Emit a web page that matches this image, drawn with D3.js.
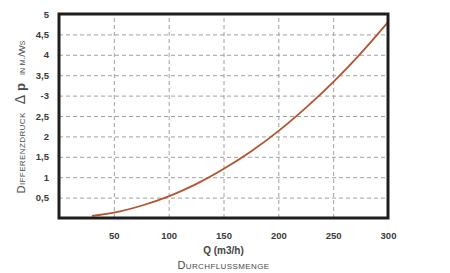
<!DOCTYPE html>
<html>
<head>
<meta charset="utf-8">
<script src="https://cdn.jsdelivr.net/npm/d3@7"></script>
<style>
  body { margin: 0; background: #fff; }
  svg { display: block; font-family: "Liberation Sans", Arial, sans-serif; }
  .grid line { stroke: #a0a0a0; stroke-width: 1; stroke-dasharray: 4 3; }
  .grid path { display: none; }
  .tick text { font-size: 9.5px; font-weight: bold; fill: #3a3a3a; }
  .axis path, .axis line { display: none; }
</style>
</head>
<body>
<svg id="chart" width="450" height="273"></svg>
<script>
// flow (m3/h) vs pressure difference (m.Ws)
const flow = [30, 50, 75, 100, 125, 150, 175, 200, 225, 250, 275, 300];
const pressure = [0.05, 0.13, 0.3, 0.53, 0.83, 1.2, 1.63, 2.13, 2.7, 3.33, 4.03, 4.8];

const xTicks = [50, 100, 150, 200, 250, 300];
const yTicks = [0.5, 1, 1.5, 2, 2.5, 3, 3.5, 4, 4.5, 5];
const yTickLabels = ["0,5", "1", "1,5", "2", "2,5", "-3", "3,5", "4", "4,5", "5"];

const plotLeft = 59, plotRight = 388, plotTop = 14, plotBottom = 218;

const svg = d3.select("#chart");

const x = d3.scaleLinear().domain([0, 300]).range([plotLeft, plotRight]);
const y = d3.scaleLinear().domain([0, 5]).range([plotBottom, plotTop]);

// dashed grid
svg.append("g")
  .attr("class", "grid")
  .attr("transform", `translate(0,${plotBottom})`)
  .call(d3.axisBottom(x).tickValues(xTicks.slice(0, -1)).tickSize(-(plotBottom - plotTop)).tickFormat(""));

svg.append("g")
  .attr("class", "grid")
  .attr("transform", `translate(${plotLeft},0)`)
  .call(d3.axisLeft(y).tickValues(yTicks.slice(0, -1)).tickSize(-(plotRight - plotLeft)).tickFormat(""));

// curve
const line = d3.line()
  .x((d, i) => x(flow[i]))
  .y(d => y(d))
  .curve(d3.curveMonotoneX);

svg.append("path")
  .datum(pressure)
  .attr("d", line)
  .attr("fill", "none")
  .attr("stroke", "#b4532f")
  .attr("stroke-width", 1.8);

// frame
svg.append("rect")
  .attr("x", plotLeft)
  .attr("y", plotTop)
  .attr("width", plotRight - plotLeft)
  .attr("height", plotBottom - plotTop)
  .attr("fill", "none")
  .attr("stroke", "#1e1e1e")
  .attr("stroke-width", 3);

// tick labels
svg.append("g")
  .attr("class", "axis")
  .attr("transform", `translate(${plotLeft - 10},0)`)
  .call(d3.axisLeft(y).tickValues(yTicks).tickSize(0).tickPadding(0)
    .tickFormat((d, i) => yTickLabels[i]));

svg.append("g")
  .attr("class", "axis")
  .attr("transform", `translate(0,${plotBottom + 14})`)
  .call(d3.axisBottom(x).tickValues(xTicks).tickSize(0).tickPadding(0));

// axis titles
svg.append("text")
  .attr("x", x(150))
  .attr("y", 254)
  .attr("text-anchor", "middle")
  .attr("font-size", 10)
  .attr("font-weight", "bold")
  .attr("fill", "#444")
  .text("Q (m3/h)");

svg.append("text")
  .attr("x", x(150))
  .attr("y", 269)
  .attr("text-anchor", "middle")
  .attr("font-size", 11)
  .attr("letter-spacing", 0.4)
  .attr("fill", "#4a4a4a")
  .style("font-variant", "small-caps")
  .text("Durchflussmenge");

const yTitle = svg.append("text")
  .attr("transform", "translate(25,117) rotate(-90)")
  .attr("text-anchor", "middle")
  .attr("fill", "#4a4a4a");
yTitle.append("tspan")
  .attr("font-size", 11)
  .attr("letter-spacing", 0.4)
  .style("font-variant", "small-caps")
  .text("Differenzdruck");
yTitle.append("tspan")
  .attr("font-size", 14)
  .attr("dx", 8)
  .text("Δ");
yTitle.append("tspan")
  .attr("font-size", 13)
  .attr("font-weight", "bold")
  .attr("dx", 4)
  .text("p");
yTitle.append("tspan")
  .attr("font-size", 9.5)
  .attr("dx", 8)
  .style("font-variant", "small-caps")
  .text("in m./Ws");
</script>
</body>
</html>
